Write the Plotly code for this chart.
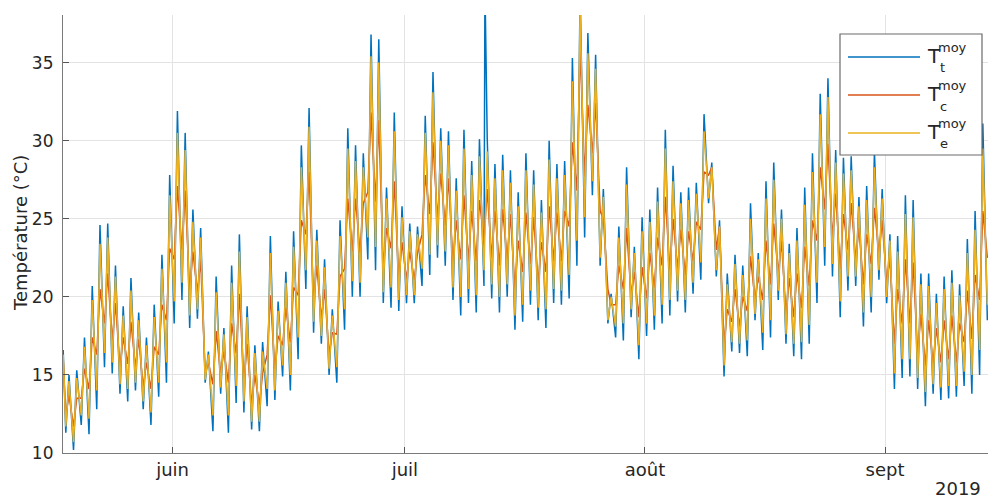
import pandas as pd
import plotly.graph_objects as go

# ---------------- data ----------------
first_day = "2019-05-18"          # day index 0
n_days = 119                       # 18 May .. 13 Sept

# daily minimum (≈05:00) and maximum (≈15:00), blue series T_t
t_min = [11.3, 10.2, 11.8, 11.2, 12.8, 15.5, 15.1, 13.8, 13.3, 14.0,
         12.8, 11.8, 13.6, 14.5, 18.3, 19.8, 18.0, 18.6, 14.5, 11.4,
         13.8, 11.3, 13.2, 12.6, 11.5, 11.4, 13.0, 13.4, 14.9, 14.0,
         16.0, 20.5, 17.7, 17.0, 15.0, 14.5, 17.9, 20.0, 20.0, 22.4,
         21.7, 19.6, 19.3, 19.1, 19.6, 19.6, 20.7, 21.4, 22.5, 22.0,
         19.8, 18.8, 19.6, 19.0, 20.7, 19.9, 19.0, 20.0, 17.9, 18.4,
         19.5, 18.5, 18.0, 19.6, 19.5, 19.9, 22.0, 23.8, 26.5, 22.0,
         18.3, 17.4, 17.2, 18.7, 16.0, 17.5, 17.9, 18.3, 18.8, 19.7,
         19.0, 20.2, 21.1, 26.0, 21.3, 14.9, 16.5, 16.4, 16.2, 18.5,
         16.6, 17.4, 19.8, 17.0, 16.2, 16.0, 17.0, 19.6, 22.0, 21.3,
         18.7, 20.4, 20.7, 18.1, 19.0, 21.1, 19.6, 14.1, 14.8, 14.9,
         14.1, 13.0, 13.8, 13.4, 13.5, 13.6, 14.3, 13.8, 15.0]
t_max = [15.0, 15.3, 17.4, 20.7, 24.6, 24.7, 22.0, 19.4, 21.2, 19.0,
         17.4, 19.5, 22.7, 27.8, 31.9, 30.5, 25.6, 24.4, 16.5, 21.3,
         18.0, 22.0, 24.0, 19.4, 16.9, 17.1, 23.9, 19.7, 21.6, 24.2,
         29.7, 32.1, 24.3, 22.4, 19.2, 24.9, 30.8, 29.7, 29.2, 36.8,
         36.5, 27.0, 31.8, 25.8, 24.7, 24.5, 31.6, 34.4, 30.8, 30.6,
         27.6, 30.7, 28.7, 30.1, 30.2, 28.5, 29.1, 28.1, 26.7, 29.2,
         28.1, 26.2, 30.0, 28.5, 28.7, 35.3, 39.5, 36.9, 35.5, 26.9,
         20.2, 24.5, 28.3, 23.2, 25.1, 25.6, 27.0, 30.7, 28.4, 26.7,
         27.0, 27.3, 31.7, 28.6, 24.9, 21.5, 22.7, 22.0, 26.0, 22.8,
         27.4, 28.6, 25.6, 23.4, 24.4, 27.0, 29.2, 33.0, 34.0, 29.4,
         28.9, 29.0, 26.4, 27.1, 29.3, 26.9, 24.0, 23.9, 26.5, 26.2,
         21.5, 21.5, 20.2, 21.3, 21.7, 20.8, 23.7, 25.5, 31.1]

# orange series T_c
c_min = [12.4, 11.7, 13.5, 14.1, 16.3, 18.3, 17.2, 15.5, 15.7, 15.5,
         14.2, 14.1, 16.3, 18.5, 22.4, 23.0, 20.3, 20.3, 15.1, 14.4,
         15.1, 14.5, 16.4, 14.6, 13.1, 13.1, 16.3, 15.3, 16.9, 17.1,
         20.1, 24.0, 19.7, 18.6, 16.3, 17.6, 21.8, 22.9, 22.8, 26.7,
         26.1, 21.8, 23.1, 21.1, 21.1, 21.1, 24.0, 25.3, 25.0, 24.6,
         22.1, 22.4, 22.3, 22.3, 23.6, 22.5, 22.0, 22.4, 20.5, 21.6,
         22.1, 20.8, 21.6, 22.3, 22.3, 24.5, 26.8, 27.7, 29.2, 25.5,
         20.5, 19.5, 20.5, 20.1, 18.7, 19.9, 20.6, 22.0, 21.7, 21.8,
         21.4, 22.3, 24.3, 27.8, 23.0, 16.9, 18.4, 18.1, 19.1, 19.8,
         19.8, 20.8, 21.5, 18.9, 18.7, 19.3, 20.7, 23.6, 25.6, 23.7,
         21.8, 23.0, 22.4, 20.8, 22.1, 22.8, 20.9, 17.0, 18.3, 18.3,
         16.3, 15.6, 15.7, 15.8, 16.0, 15.8, 17.1, 17.3, 19.8]
c_max = [13.7, 13.5, 15.4, 17.4, 20.5, 21.5, 19.6, 17.4, 18.4, 17.3,
         15.8, 16.8, 19.5, 23.1, 27.1, 26.8, 22.9, 22.4, 15.8, 17.8,
         16.5, 18.3, 20.2, 17.0, 15.0, 15.1, 20.1, 17.5, 19.3, 20.6,
         24.9, 28.0, 22.0, 20.5, 17.7, 21.3, 26.3, 26.3, 26.0, 31.8,
         31.3, 24.4, 27.4, 23.5, 22.9, 22.8, 27.8, 29.9, 27.9, 27.6,
         24.9, 26.5, 25.5, 26.2, 26.9, 25.5, 25.6, 25.3, 23.6, 25.4,
         25.1, 23.5, 25.8, 25.4, 25.5, 29.9, 36.0, 32.3, 32.4, 25.0,
         19.5, 22.0, 24.4, 21.6, 21.9, 22.8, 23.8, 26.4, 25.0, 24.3,
         24.2, 24.8, 28.0, 28.3, 24.5, 19.2, 20.5, 20.0, 22.6, 21.3,
         23.6, 24.7, 23.6, 21.2, 21.5, 23.2, 24.9, 28.3, 29.8, 26.6,
         25.3, 26.0, 24.4, 24.0, 25.7, 24.9, 22.5, 20.5, 22.4, 22.2,
         18.9, 18.5, 18.0, 18.5, 18.8, 18.3, 20.4, 21.4, 25.5]

# yellow series T_e
e_min = [11.7, 10.7, 12.4, 12.2, 14.0, 16.4, 15.8, 14.4, 14.1, 14.5,
         13.3, 12.6, 14.5, 15.8, 19.7, 20.9, 18.8, 19.2, 14.7, 12.4,
         14.2, 12.4, 14.3, 13.3, 12.0, 12.0, 14.1, 14.0, 15.6, 15.0,
         17.4, 21.7, 18.4, 17.5, 15.4, 15.5, 19.2, 21.0, 20.9, 23.8,
         23.2, 20.3, 20.6, 19.8, 20.1, 20.1, 21.8, 22.7, 23.3, 22.9,
         20.6, 20.0, 20.5, 20.1, 21.7, 20.8, 20.0, 20.8, 18.8, 19.5,
         20.4, 19.3, 19.2, 20.5, 20.4, 21.4, 23.6, 25.1, 27.4, 22.5,
         18.5, 18.1, 18.3, 19.2, 16.9, 18.3, 18.8, 19.5, 19.8, 20.4,
         19.8, 20.9, 22.2, 26.3, 21.7, 15.6, 17.1, 17.0, 17.2, 18.9,
         17.7, 18.5, 20.4, 17.6, 17.0, 17.1, 18.2, 20.9, 23.2, 22.1,
         19.7, 21.3, 21.3, 19.0, 20.0, 21.7, 20.0, 15.1, 16.0, 16.0,
         14.8, 13.9, 14.4, 14.2, 14.3, 14.3, 15.2, 15.0, 16.6]
e_max = [14.6, 14.8, 16.8, 19.8, 23.4, 23.8, 21.3, 18.8, 20.4, 18.5,
         16.9, 18.7, 21.8, 26.5, 30.5, 29.4, 24.8, 23.8, 16.3, 20.3,
         17.6, 20.9, 22.9, 18.7, 16.4, 16.5, 22.8, 19.1, 20.9, 23.2,
         28.3, 30.9, 23.6, 21.9, 18.8, 23.9, 29.5, 28.7, 28.3, 35.4,
         35.0, 26.3, 30.6, 25.1, 24.2, 24.0, 30.5, 33.1, 30.0, 29.7,
         26.8, 29.5, 27.8, 29.0, 29.3, 27.6, 28.1, 27.3, 25.8, 28.1,
         27.2, 25.4, 28.8, 27.6, 27.8, 33.8, 38.5, 35.6, 34.6, 26.4,
         20.0, 23.8, 27.2, 22.8, 24.2, 24.8, 26.1, 29.5, 27.4, 26.0,
         26.2, 26.6, 30.6, 28.3, 24.5, 20.8, 22.1, 21.4, 25.0, 22.4,
         26.3, 27.5, 25.0, 22.8, 23.6, 25.9, 28.0, 31.7, 32.8, 28.6,
         27.9, 28.1, 25.8, 26.2, 28.3, 26.3, 23.6, 22.9, 25.3, 25.1,
         20.8, 20.7, 19.6, 20.5, 20.9, 20.1, 22.8, 24.3, 29.5]

# first and last samples of each series, and the single outlier of T_t
start_time = "2019-05-17 21:00"
start_vals = {"t": 16.6, "c": 16.0, "e": 16.3}
end_time = "2019-09-14 05:00"
end_vals = {"t": 18.5, "c": 22.5, "e": 19.5}
spike_time = "2019-07-11 08:00"
spike_value = 40.0

series_names = ["T<sub>t</sub><sup>moy</sup>", "T<sub>c</sub><sup>moy</sup>", "T<sub>e</sub><sup>moy</sup>"]
legend_sub = ["t", "c", "e"]
month_ticks = ["2019-06-01", "2019-07-01", "2019-08-01", "2019-09-01"]
month_labels = ["juin", "juil", "août", "sept"]
y_ticks = [10, 15, 20, 25, 30, 35]
colors = ["#0072BD", "#D95319", "#EDB120"]

# ---------------- build the time series ----------------
days = pd.date_range(first_day, periods=n_days, freq="D")


def build(mins, maxs, key, extra=None):
    pts = [(pd.Timestamp(start_time), start_vals[key])]
    for d, lo, hi in zip(days, mins, maxs):
        pts.append((d + pd.Timedelta(hours=5), lo))
        pts.append((d + pd.Timedelta(hours=15), hi))
    pts.append((pd.Timestamp(end_time), end_vals[key]))
    if extra:
        pts.extend(extra)
    pts.sort(key=lambda p: p[0])
    return [p[0] for p in pts], [p[1] for p in pts]


xt, yt = build(t_min, t_max, "t", [(pd.Timestamp(spike_time), spike_value)])
xc, yc = build(c_min, c_max, "c")
xe, ye = build(e_min, e_max, "e")

fig = go.Figure()
for (xx, yy), name, col in zip([(xt, yt), (xc, yc), (xe, ye)], series_names, colors):
    fig.add_trace(go.Scatter(x=xx, y=yy, mode="lines", name=name,
                             line=dict(color=col, width=1.5), showlegend=False,
                             hoverinfo="x+y"))

# ---------------- layout ----------------
W, H = 990, 500
L, R, T, B = 63, 2, 15, 47
pw, ph = W - L - R, H - T - B


def px(xp):
    return (xp - L) / pw


def py(yp):
    return (H - B - yp) / ph


font = "DejaVu Sans"
txt = "#262626"

fig.update_layout(
    width=W, height=H,
    margin=dict(l=L, r=R, t=T, b=B, autoexpand=False),
    paper_bgcolor="white", plot_bgcolor="white",
    font=dict(family=font, size=17, color=txt),
    xaxis=dict(range=["2019-05-17 20:24", "2019-09-14 07:00"],
               tickvals=month_ticks, ticktext=month_labels,
               ticks="inside", ticklen=6, tickcolor="#555",
               showgrid=True, gridcolor="#e3e3e3", gridwidth=1,
               showline=True, linecolor="#7a7a7a", linewidth=1.2,
               zeroline=False, tickfont=dict(size=18, color=txt),
               automargin=False),
    yaxis=dict(range=[10, 38.05], tickvals=y_ticks,
               ticks="inside", ticklen=6, tickcolor="#555",
               showgrid=True, gridcolor="#e3e3e3", gridwidth=1,
               showline=True, linecolor="#7a7a7a", linewidth=1.2,
               zeroline=False, tickfont=dict(size=17, color=txt),
               ticklabelstandoff=5, automargin=False),
    showlegend=False,
)

annotations = [
    dict(text="Température (°C)", textangle=-90, xref="paper", yref="paper",
         x=px(20), y=py(233), showarrow=False, font=dict(size=18, color=txt),
         xanchor="center", yanchor="middle"),
    dict(text="2019", xref="paper", yref="paper", x=px(983), y=py(489),
         showarrow=False, font=dict(size=18, color=txt), xanchor="right", yanchor="middle"),
]

# hand-drawn legend (stacked super/subscripts as in the original)
shapes = [dict(type="rect", xref="paper", yref="paper",
               x0=px(840), x1=px(982), y0=py(155), y1=py(34),
               line=dict(color="#6b6b6b", width=1.2), fillcolor="white", layer="above")]
for i, (col, sub) in enumerate(zip(colors, legend_sub)):
    yrow = 57 + 38 * i
    shapes.append(dict(type="line", xref="paper", yref="paper",
                       x0=px(848), x1=px(920), y0=py(yrow), y1=py(yrow),
                       line=dict(color=col, width=1.4), layer="above"))
    annotations.append(dict(text="T", xref="paper", yref="paper", x=px(925), y=py(yrow - 1),
                            showarrow=False, xanchor="left", yanchor="middle",
                            font=dict(size=20, color=txt)))
    annotations.append(dict(text="moy", xref="paper", yref="paper", x=px(936), y=py(yrow - 10),
                            showarrow=False, xanchor="left", yanchor="middle",
                            font=dict(size=13, color=txt)))
    annotations.append(dict(text=sub, xref="paper", yref="paper", x=px(938), y=py(yrow + 11),
                            showarrow=False, xanchor="left", yanchor="middle",
                            font=dict(size=13, color=txt)))

fig.update_layout(annotations=annotations, shapes=shapes)
fig.write_html("out.html", config={"displayModeBar": False},
               post_script="document.body.style.margin='0';document.body.style.padding='0';")
